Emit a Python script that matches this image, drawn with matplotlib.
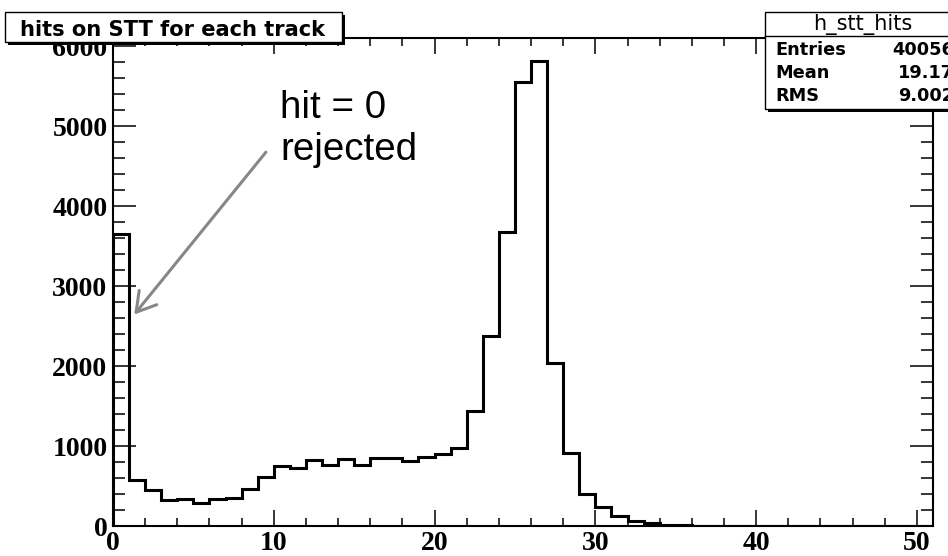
import numpy as np
import matplotlib
matplotlib.use('Agg')
from matplotlib import pyplot as plt
from matplotlib.patches import Rectangle
from matplotlib.ticker import MultipleLocator

# bin contents of h_stt_hits, one bin per hit count 0..50
hit_bins = np.arange(0, 52)
counts = [3657, 573, 451, 330, 338, 292, 338, 347, 460, 618,
          748, 723, 823, 764, 843, 768, 856, 848, 815, 860,
          895, 969, 1432, 2380, 3680, 5547, 5811, 2040, 911, 397,
          242, 129, 67, 33, 17, 9, 5, 4, 3, 2,
          2, 1, 1, 1, 1, 0, 1, 0, 0, 0, 0]

title = 'hits on STT for each track'
stat_name = 'h_stt_hits'
stat_labels = ['Entries', 'Mean', 'RMS']
stat_values = ['40056', '19.17', '9.002']
note_lines = ['hit = 0', 'rejected']

W, H = 948, 556

def fx(x):
    return x / W

def fy(y):
    return 1 - y / H

fig = plt.figure(figsize=(W / 100, H / 100), dpi=100)
ax = fig.add_axes([fx(113), fy(526), (933 - 113) / W, (526 - 38) / H])

ax.stairs(counts, hit_bins, color='black', lw=2.2)
ax.set_xlim(0, 51)
ax.set_ylim(0, max(counts) * 1.05)

ax.xaxis.set_major_locator(MultipleLocator(10))
ax.xaxis.set_minor_locator(MultipleLocator(2))
ax.yaxis.set_major_locator(MultipleLocator(1000))
ax.yaxis.set_minor_locator(MultipleLocator(200))
ax.tick_params(direction='in', top=True, right=True, which='both', width=1.1)
ax.tick_params(axis='x', which='major', length=11.5, pad=3.5)
ax.tick_params(axis='x', which='minor', length=5.8)
ax.tick_params(axis='y', which='major', length=16.5, pad=4)
ax.tick_params(axis='y', which='minor', length=8.6)
for lab in ax.get_xticklabels() + ax.get_yticklabels():
    lab.set_family('Liberation Serif')
    lab.set_weight('bold')
    lab.set_size(20)
for s in ax.spines.values():
    s.set_linewidth(1.5)

# arrow pointing at the hit = 0 bin
ax.annotate('', xy=(1.32, 2644), xytext=(9.51, 4674),
            arrowprops=dict(arrowstyle='->,head_length=0.4,head_width=0.24',
                            color='#878787', lw=2.2, mutation_scale=34,
                            shrinkA=0, shrinkB=0))
fig.text(fx(280), fy(118), note_lines[0], family='Liberation Sans',
         fontsize=27.7, va='baseline', ha='left')
fig.text(fx(280), fy(160), note_lines[1], family='Liberation Sans',
         fontsize=27.7, va='baseline', ha='left')

# title box with shadow
def box(x0, y0, x1, y1, z):
    fig.add_artist(Rectangle((fx(x0 + 3), fy(y1 + 3)), (x1 - x0) / W, (y1 - y0) / H,
                             transform=fig.transFigure, facecolor='black',
                             edgecolor='none', zorder=z))
    fig.add_artist(Rectangle((fx(x0), fy(y1)), (x1 - x0) / W, (y1 - y0) / H,
                             transform=fig.transFigure, facecolor='white',
                             edgecolor='black', lw=1.0, zorder=z + 0.1))

box(5, 12, 342, 42, 5)
fig.text(fx(173), fy(36.5), title, family='DejaVu Sans', weight='bold',
         fontsize=15.1, ha='center', va='baseline', zorder=6)

# stats box
box(765, 12, 960, 109, 5)
fig.add_artist(plt.Line2D([fx(765), fx(960)], [fy(35.5), fy(35.5)],
                          transform=fig.transFigure, color='black', lw=1.0, zorder=6))
fig.text(fx(862.5), fy(30), stat_name, family='DejaVu Sans', fontsize=15,
         ha='center', va='baseline', zorder=6)
rows_y = [55, 78, 101]
for lab, val, y in zip(stat_labels, stat_values, rows_y):
    fig.text(fx(775), fy(y), lab, family='DejaVu Sans', weight='bold',
             fontsize=12.8, ha='left', va='baseline', zorder=6)
    fig.text(fx(954), fy(y), val, family='DejaVu Sans', weight='bold',
             fontsize=12.8, ha='right', va='baseline', zorder=6)

fig.savefig('out.png', dpi=100)
